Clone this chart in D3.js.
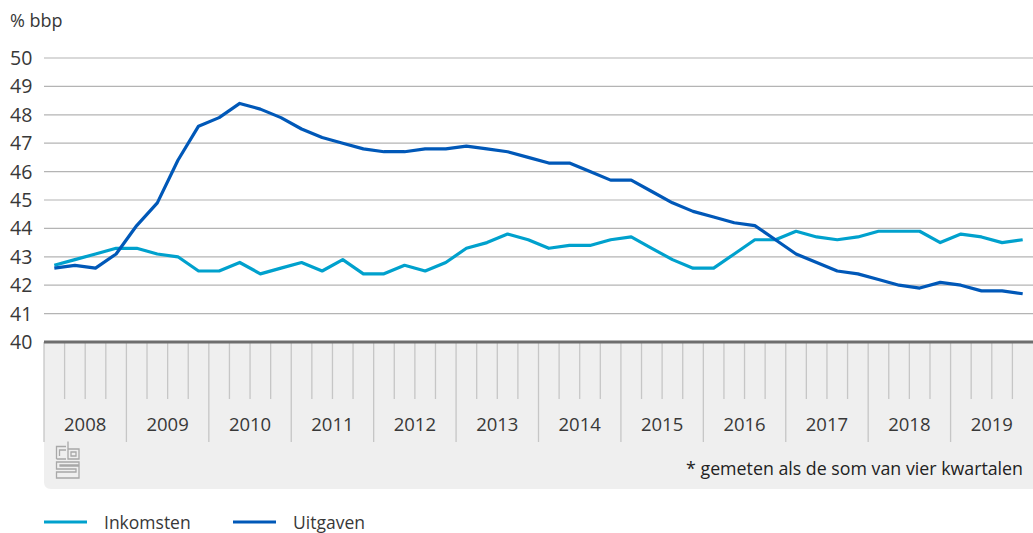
<!DOCTYPE html>
<html><head><meta charset="utf-8">
<script src="https://cdn.jsdelivr.net/npm/d3@7"></script>
<style>
html,body{margin:0;padding:0;background:#fff;}
svg{display:block;font-family:"Open Sans",sans-serif;}
</style></head>
<body>
<svg id="c" width="1033" height="533"></svg>
<script>
const years = ["2008","2009","2010","2011","2012","2013","2014","2015","2016","2017","2018","2019"];
const quarters = years.flatMap(y => ["I","II","III","IV"].map(q => y + " " + q));
const inkomsten = [42.7,42.9,43.1,43.3, 43.3,43.1,43.0,42.5, 42.5,42.8,42.4,42.6, 42.8,42.5,42.9,42.4,
  42.4,42.7,42.5,42.8, 43.3,43.5,43.8,43.6, 43.3,43.4,43.4,43.6, 43.7,43.3,42.9,42.6,
  42.6,43.1,43.6,43.6, 43.9,43.7,43.6,43.7, 43.9,43.9,43.9,43.5, 43.8,43.7,43.5,43.6];
const uitgaven = [42.6,42.7,42.6,43.1, 44.1,44.9,46.4,47.6, 47.9,48.4,48.2,47.9, 47.5,47.2,47.0,46.8,
  46.7,46.7,46.8,46.8, 46.9,46.8,46.7,46.5, 46.3,46.3,46.0,45.7, 45.7,45.3,44.9,44.6,
  44.4,44.2,44.1,43.6, 43.1,42.8,42.5,42.4, 42.2,42.0,41.9,42.1, 42.0,41.8,41.8,41.7];
const yTicks = [40,41,42,43,44,45,46,47,48,49,50];
const seriesNames = ["Inkomsten","Uitgaven"];
const colors = ["#00a1cd","#0058b8"];
const footnote = "* gemeten als de som van vier kwartalen";
const unitLabel = "% bbp";

const svg = d3.select("#c");
const L = 44, R = 1033, T = 58, B = 342;
const x = d3.scaleBand().domain(quarters).range([L, R]).padding(0);
const xYear = d3.scaleBand().domain(years).range([L, R]).padding(0);
const y = d3.scaleLinear().domain([40,50]).range([B, T]);

// grid
svg.append("g").selectAll("line").data(yTicks.filter(d => d > 40)).join("line")
  .attr("x1", L).attr("x2", R).attr("y1", d => y(d)).attr("y2", d => y(d))
  .attr("stroke", "#b4b4b4").attr("stroke-width", 1.2);

// y labels
svg.append("g").selectAll("text").data(yTicks).join("text")
  .attr("x", 10).attr("y", d => y(d) + 7)
  .attr("font-size", 19.5).attr("fill", "#383838").text(d => d);
svg.append("text").attr("x", 10).attr("y", 27).attr("font-size", 18).attr("fill", "#383838").text(unitLabel);

// bottom panel
const panelBottom = 489, rad = 7;
svg.append("path")
  .attr("d", `M${L},${B} H${R} V${panelBottom} H${L+rad} Q${L},${panelBottom} ${L},${panelBottom-rad} Z`)
  .attr("fill", "#efefef");

// quarter ticks
svg.append("g").selectAll("line").data(quarters.filter((d,i) => i % 4 !== 0)).join("line")
  .attr("x1", d => x(d)).attr("x2", d => x(d)).attr("y1", B).attr("y2", 399)
  .attr("stroke", "#c6c6c6").attr("stroke-width", 1.3);
// year ticks
svg.append("g").selectAll("line").data(years).join("line")
  .attr("x1", d => xYear(d)).attr("x2", d => xYear(d)).attr("y1", B).attr("y2", 442)
  .attr("stroke", "#c6c6c6").attr("stroke-width", 1.3);
// year labels
svg.append("g").selectAll("text").data(years).join("text")
  .attr("x", d => xYear(d) + xYear.bandwidth()/2).attr("y", 431)
  .attr("text-anchor", "middle").attr("font-size", 18.5).attr("fill", "#383838").text(d => d);

// axis line
svg.append("line").attr("x1", L).attr("x2", R).attr("y1", B).attr("y2", B)
  .attr("stroke", "#6e6e6e").attr("stroke-width", 3);

// footnote
svg.append("text").attr("x", 1023).attr("y", 475).attr("text-anchor", "end")
  .attr("font-size", 17.8).attr("fill", "#222").text(footnote);

// cbs logo (decorative)
const lg = svg.append("g").attr("fill", "none").attr("stroke", "#a8a8a8").attr("stroke-width", 1.3);
lg.append("path").attr("d", "M56.5,459 V446.5 H66 M56.5,459 H66 M59.5,456 V450 H66");
lg.append("path").attr("d", "M68,441.5 V459 H79 V449 H68 M71,452 H76 V456 H71 Z");
lg.append("path").attr("d", "M79,462 H56.5 V469 H76 V472 H56.5 V478 H79 V466 H60 V465 H79 Z");

// lines
const line = d3.line().x((d,i) => x(quarters[i]) + x.bandwidth()/2).y(d => y(d));
[inkomsten, uitgaven].forEach((s, k) => {
  svg.append("path").datum(s).attr("d", line).attr("fill", "none")
    .attr("stroke", colors[k]).attr("stroke-width", 3.2).attr("stroke-linejoin", "round");
});

// legend
const legX = [44, 233];
seriesNames.forEach((n, k) => {
  svg.append("line").attr("x1", legX[k]).attr("x2", legX[k] + 43).attr("y1", 522).attr("y2", 522)
    .attr("stroke", colors[k]).attr("stroke-width", 3.2);
  svg.append("text").attr("x", legX[k] + 60).attr("y", 529).attr("font-size", 17.5).attr("fill", "#383838").text(n);
});
</script>
</body></html>
